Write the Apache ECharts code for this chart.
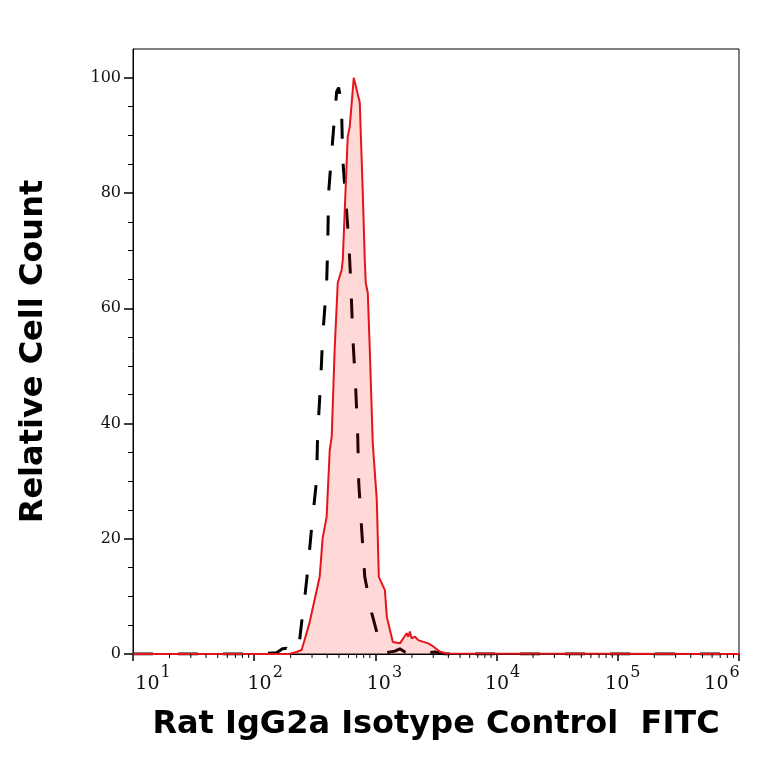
<!DOCTYPE html>
<html><head><meta charset="utf-8">
<script src="https://cdn.jsdelivr.net/npm/echarts@6/dist/echarts.min.js"></script>
<style>html,body{margin:0;padding:0;background:#fff}#c{width:764px;height:764px}</style>
</head><body><div id="c"></div>
<script>
// Red (filled) histogram: x (fluorescence), y (relative count)
const redX = [10, 100, 195, 224, 246, 260, 286, 315, 347, 367, 396, 420, 436, 461, 489, 527, 538, 591, 614, 663, 743, 787, 817, 833, 865, 899, 951, 1027, 1067, 1197, 1243, 1316, 1393, 1592, 1695, 1811, 1867, 1926, 1991, 2120, 2258, 2485, 2733, 3006, 3412, 3882, 1000000];
const redY = [0, 0, 0, 0.35, 0.7, 2.4, 5.4, 9.4, 13.4, 20.1, 23.8, 35.4, 37.7, 52.8, 64.4, 66.7, 68.4, 89.8, 91.5, 100, 95.7, 80, 68.4, 64.4, 62.7, 52.8, 36.6, 26.7, 13.4, 11.1, 6.4, 4.2, 2.1, 1.85, 2.7, 3.6, 3.0, 3.9, 2.7, 3.0, 2.4, 2.1, 1.85, 1.3, 0.4, 0.1, 0];
// Black dashed (isotype control) histogram
const blackX = [10, 100, 153, 171, 185, 203, 224, 237, 246, 260, 275, 298, 327, 334, 353, 367, 396, 404, 411, 444, 479, 498, 517, 527, 538, 602, 627, 651, 689, 715, 729, 771, 817, 933, 1027, 1109, 1197, 1449, 1592, 1750, 2000, 3105, 3757, 1000000];
const blackY = [0, 0, 0.2, 0.9, 1.0, 0.2, 0.35, 2.4, 5.4, 9.4, 14.1, 22, 30.2, 38.4, 47, 55, 64.4, 70.7, 80, 89.2, 97.6, 98.3, 96.2, 93.6, 85.8, 71.9, 64.4, 55, 45.8, 37.7, 29.7, 21.5, 13.4, 7.1, 3.8, 1.6, 0.2, 0.5, 0.9, 0.35, 0, 0.35, 0, 0];
// Axis ticks
const xMajorTicks = [10, 100, 1000, 10000, 100000, 1000000];
const xMinorTicks = [];
for (const d of [10, 100, 1000, 10000, 100000]) for (let k = 2; k <= 9; k++) xMinorTicks.push(d * k);
const yMajorTicks = [0, 20, 40, 60, 80, 100];
const yMinorTicks = [5, 10, 15, 25, 30, 35, 45, 50, 55, 65, 70, 75, 85, 90, 95];
const xTitle = 'Rat IgG2a Isotype Control  FITC';
const yTitle = 'Relative Cell Count';

const redData = redX.map((x, i) => [x, redY[i]]);
const blackData = blackX.map((x, i) => [x, blackY[i]]);

// horizontal label nudges (layout only), per decade label
const labelShift = [20, 11, 9, 6, 5, -17];
const richStyles = {
  b: {fontFamily: 'DejaVu Serif', fontSize: 19, color: '#111', verticalAlign: 'bottom', padding: [10, 0, 0, 0]},
  s: {fontFamily: 'DejaVu Serif', fontSize: 16, color: '#111', verticalAlign: 'top', padding: [0, 0, 10, 1]}
};
labelShift.forEach((s, i) => { richStyles['g' + i] = {width: Math.abs(s) * 2, fontSize: 10}; });

const chart = echarts.init(document.getElementById('c'), null, {renderer: 'canvas'});
const titleFont = {fontFamily: 'DejaVu Sans', fontWeight: 'bold', fontSize: 32, color: '#000'};
chart.setOption({
  animation: false,
  grid: {left: 133, right: 25, top: 49, bottom: 110, show: true, borderColor: '#000', borderWidth: 1, backgroundColor: 'transparent'},
  xAxis: {
    type: 'log', logBase: 10, min: 10, max: 1000000, position: 'bottom',
    name: xTitle, nameLocation: 'middle', nameGap: 55, nameTextStyle: titleFont,
    axisLine: {show: true, lineStyle: {color: '#000', width: 1}},
    axisTick: {show: true, length: 7, lineStyle: {color: '#000', width: 1.5}},
    axisLabel: {
      margin: 11,
      formatter: (v) => {
        const e = Math.round(Math.log10(v));
        const i = e - 1;
        const s = labelShift[i] || 0;
        const core = '{b|10}{s|' + e + '}';
        if (s > 0) return '{g' + i + '| }' + core;
        if (s < 0) return core + '{g' + i + '| }';
        return core;
      },
      rich: richStyles
    },
    splitLine: {show: false}, minorTick: {show: false}
  },
  yAxis: [{
    type: 'value', min: 0, max: 105, position: 'left',
    name: yTitle, nameLocation: 'middle', nameGap: 83, nameTextStyle: titleFont,
    axisLine: {show: true, lineStyle: {color: '#000', width: 1}},
    axisTick: {show: true, length: 9, customValues: yMajorTicks, lineStyle: {color: '#000', width: 1.5}},
    axisLabel: {customValues: yMajorTicks, margin: 12, fontFamily: 'DejaVu Serif', fontSize: 16, color: '#111'},
    splitLine: {show: false}
  }, {
    type: 'value', min: 0, max: 105, position: 'left', offset: 0,
    axisLine: {show: false},
    axisTick: {show: true, length: 5, customValues: yMinorTicks, lineStyle: {color: '#000', width: 1}},
    axisLabel: {show: false}, splitLine: {show: false}
  }],
  series: [{
    type: 'line', name: 'control', data: blackData,
    showSymbol: false, symbol: 'none', smooth: false,
    lineStyle: {color: '#000', width: 3, type: [20, 25]},
    z: 2
  }, {
    type: 'line', name: 'stained', data: redData,
    showSymbol: false, symbol: 'none', smooth: false,
    lineStyle: {color: '#e5141b', width: 2},
    areaStyle: {color: 'rgba(255,0,0,0.22)', origin: 'start'},
    z: 3
  }, {
    type: 'custom', name: 'minorTicks', silent: true, clip: false, z: 5,
    data: xMinorTicks.map(v => [v, 0]),
    encode: {x: 0, y: 1},
    renderItem: (params, api) => {
      const p = api.coord([api.value(0), 0]);
      return {type: 'line', shape: {x1: p[0], y1: p[1], x2: p[0], y2: p[1] + 4}, style: {stroke: '#000', lineWidth: 1}};
    }
  }]
});
</script></body></html>
